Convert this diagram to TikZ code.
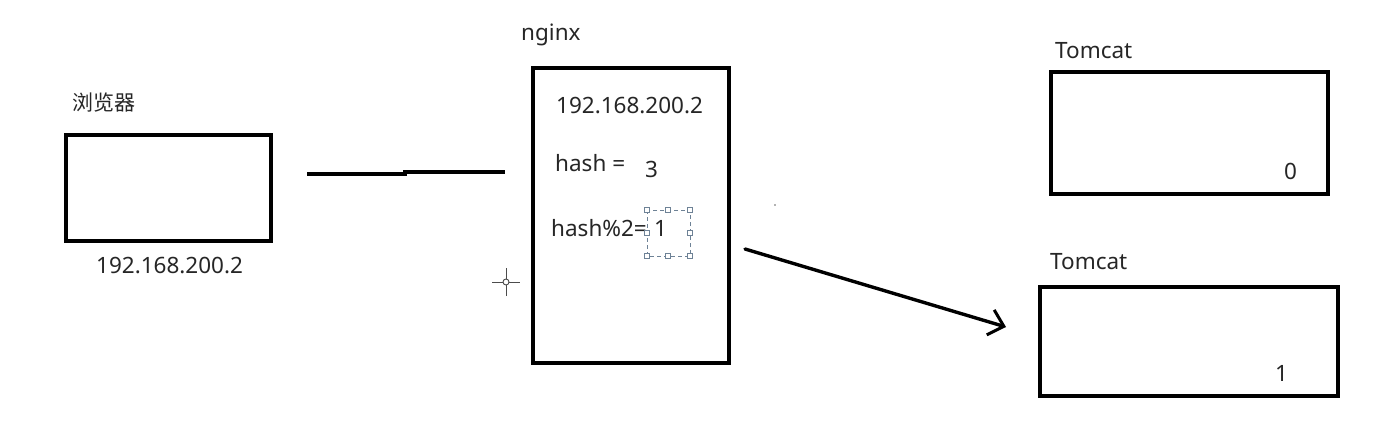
\documentclass[tikz,border=0pt]{standalone}
\usepackage{fontspec}
\setmainfont{Noto Sans}
\newfontfamily\cjk{Noto Sans CJK SC}
\usetikzlibrary{arrows.meta}
\definecolor{selgray}{RGB}{110,130,150}
\tikzset{
  box/.style={draw=black, line width=3.6pt, fill=white},
  lbl/.style={inner sep=0pt, anchor=west, text=black!85, font=\fontsize{22.5}{26}\selectfont},
  handle/.style={draw=selgray, fill=white, line width=0.7pt, minimum size=5.5pt, inner sep=0pt},
  conn/.style={line width=3.4pt, black}
}
\begin{document}
\begin{tikzpicture}[x=1pt,y=-1pt]
\useasboundingbox (0,0) rectangle (1392,444);
% browser
\node[box, minimum width=205pt, minimum height=106pt, anchor=north west] (browser) at (64,133) {};
\node[lbl, font=\cjk\fontsize{21}{25}\selectfont] (browserlbl) at (72,103) {浏览器};
\node[lbl] (browserip) at (96,265) {192.168.200.2};
% nginx
\node[box, minimum width=196pt, minimum height=295pt, anchor=north west] (nginx) at (531,66) {};
\node[lbl] (nginxlbl) at (521,35) {nginx};
\node[lbl] (nip) at (556,106) {192.168.200.2};
\node[lbl] (hash) at (555,163) {hash =};
\node[lbl] (three) at (645,169) {3};
\node[lbl] (mod) at (551,228) {hash\%2=};
\node[lbl] (one) at (654,228) {1};
% selection box
\coordinate (s1) at (647,210);
\coordinate (s2) at (690,256);
\draw[selgray, dash pattern=on 4pt off 3pt, line width=0.7pt] (s1) rectangle (s2);
\foreach \x/\y [count=\i] in {647/210,668/210,690/210,647/233,690/233,647/256,668/256,690/256}
  \node[handle] (h\i) at (\x,\y) {};
% cursor crosshair
\coordinate (cur) at (506,282);
\draw[black!70, line width=0.9pt] ([xshift=-14pt]cur) -- ([xshift=14pt]cur) ([yshift=-14pt]cur) -- ([yshift=14pt]cur);
\draw[black!70, fill=white, line width=0.9pt] (cur) circle (3pt);
% stray dot
\fill[black!60] (775,205) circle (0.8pt);
% tomcats
\node[box, minimum width=277pt, minimum height=122pt, anchor=north west] (t0) at (1049,70) {};
\node[lbl] (t0lbl) at (1055,51) {Tomcat};
\node[lbl] (t0n) at (1284,171) {0};
\node[box, minimum width=298pt, minimum height=109pt, anchor=north west] (t1) at (1038,285) {};
\node[lbl] (t1lbl) at (1050,262) {Tomcat};
\node[lbl] (t1n) at (1275,373) {1};
% connectors
\coordinate (la) at (307,174);
\coordinate (lm) at (405,174);
\coordinate (lm2) at (405,172);
\coordinate (lb) at (505,172);
\draw[conn] (la) -- (lm) -- (lm2) -- (lb);
\coordinate (aa) at (745,249);
\coordinate (ab) at (1006,327);
\draw[conn, line cap=round, -{Straight Barb[length=14pt, width=26pt, line width=3pt]}] (aa) -- (ab);
\end{tikzpicture}
\end{document}
